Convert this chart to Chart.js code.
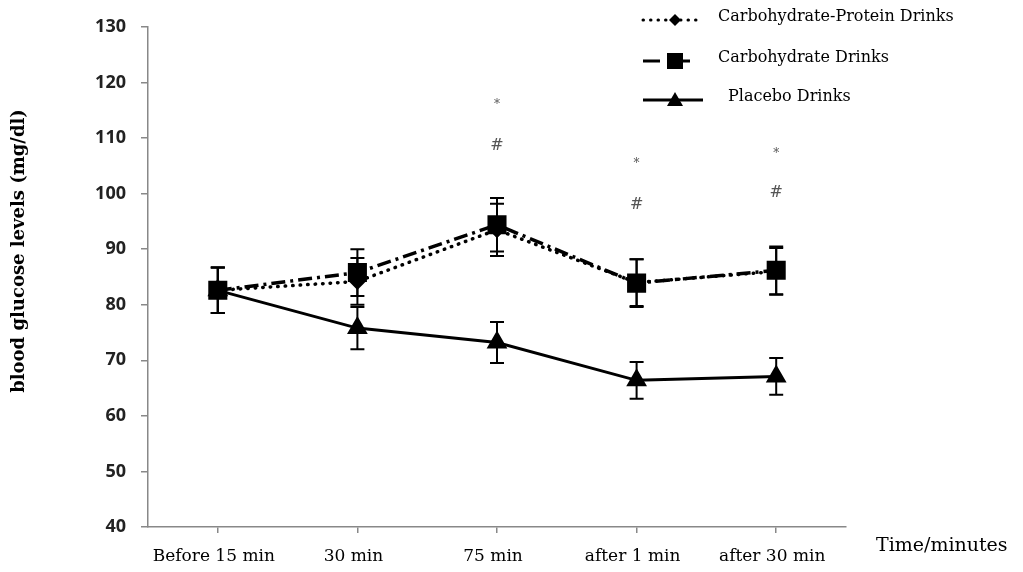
<!DOCTYPE html>
<html>
<head>
<meta charset="utf-8">
<script src="https://cdn.jsdelivr.net/npm/chart.js"></script>
<style>
  html, body { margin: 0; padding: 0; background: #fff; }
  #wrap { width: 1023px; height: 572px; }
</style>
</head>
<body>
<div id="wrap"><canvas id="glucoseChart" width="1023" height="572"></canvas></div>
<script>
const categories = ['Before 15 min', '30 min', '75 min', 'after 1 min', 'after 30 min'];

const cpMeans = [82.6, 84.2, 93.5, 84.0, 86.0];
const cpErrors = [4.1, 4.2, 4.7, 4.2, 4.2];

const carbMeans = [82.6, 85.8, 94.4, 83.9, 86.2];
const carbErrors = [4.1, 4.2, 4.8, 4.3, 4.3];

const placeboMeans = [82.6, 75.8, 73.2, 66.4, 67.1];
const placeboErrors = [4.1, 3.8, 3.7, 3.3, 3.3];

// significance marks above the groups (value = where the mark sits)
const starValues = [null, null, 116.3, 105.7, 107.5];
const hashValues = [null, null, 108.6, 98.0, 100.1];

const yTitle = 'blood glucose levels (mg/dl)';
const xTitle = 'Time/minutes';

const serif = '"DejaVu Serif", "Liberation Serif", serif';

const errorBars = {
    id: 'errorBars',
    afterDatasetsDraw(chart) {
        const { ctx, scales: { y } } = chart;
        ctx.save();
        ctx.strokeStyle = '#000';
        ctx.lineWidth = 2;
        chart.data.datasets.forEach((ds, di) => {
            const meta = chart.getDatasetMeta(di);
            ds.data.forEach((v, i) => {
                const x = meta.data[i].x;
                const top = y.getPixelForValue(v + ds.errors[i]);
                const bot = y.getPixelForValue(v - ds.errors[i]);
                ctx.beginPath();
                ctx.moveTo(x, top); ctx.lineTo(x, bot);
                ctx.moveTo(x - 7, top); ctx.lineTo(x + 7, top);
                ctx.moveTo(x - 7, bot); ctx.lineTo(x + 7, bot);
                ctx.stroke();
            });
        });
        ctx.restore();
    }
};

function drawMarker(ctx, style, x, y) {
    ctx.beginPath();
    if (style === 'rect') {
        ctx.rect(x - 8, y - 8, 16, 16);
    } else if (style === 'triangle') {
        ctx.moveTo(x, y - 8); ctx.lineTo(x + 8, y + 6); ctx.lineTo(x - 8, y + 6);
        ctx.closePath();
    } else {
        ctx.moveTo(x, y - 6); ctx.lineTo(x + 6, y); ctx.lineTo(x, y + 6); ctx.lineTo(x - 6, y);
        ctx.closePath();
    }
    ctx.fill();
}

const extras = {
    id: 'extras',
    afterDraw(chart) {
        const { ctx, scales: { x, y } } = chart;
        ctx.save();

        // significance marks
        ctx.fillStyle = '#555';
        ctx.textAlign = 'center';
        ctx.textBaseline = 'middle';
        categories.forEach((c, i) => {
            const px = x.getPixelForValue(i);
            if (starValues[i] !== null) {
                ctx.font = '12px ' + serif;
                ctx.fillText('*', px, y.getPixelForValue(starValues[i]) + 2);
            }
            if (hashValues[i] !== null) {
                ctx.font = '16px ' + serif;
                ctx.fillText('#', px, y.getPixelForValue(hashValues[i]));
            }
        });

        // y title
        ctx.fillStyle = '#000';
        ctx.font = 'bold 18px ' + serif;
        ctx.translate(19, 251);
        ctx.rotate(-Math.PI / 2);
        ctx.fillText(yTitle, 0, 0);
        ctx.setTransform(1, 0, 0, 1, 0, 0);

        // x title
        ctx.textAlign = 'left';
        ctx.font = '19px ' + serif;
        ctx.fillText(xTitle, 876, 546);

        // legend
        const rows = [17, 58, 97];
        chart.data.datasets.forEach((ds, di) => {
            const ly = rows[di] + 3;
            ctx.strokeStyle = '#000';
            ctx.fillStyle = '#000';
            ctx.lineWidth = 3;
            ctx.lineCap = ds.borderCapStyle || 'butt';
            ctx.setLineDash(ds.legendDash);
            ctx.beginPath();
            ctx.moveTo(643, ly);
            ctx.lineTo(ds.legendEnd, ly);
            ctx.stroke();
            ctx.setLineDash([]);
            drawMarker(ctx, ds.pointStyle, 675, ly);
            ctx.font = '16px ' + serif;
            ctx.textBaseline = 'middle';
            ctx.fillText(ds.label, ds.legendTextX, rows[di]);
        });
        ctx.restore();
    }
};

new Chart(document.getElementById('glucoseChart'), {
    type: 'line',
    data: {
        labels: categories,
        datasets: [
            {
                label: 'Carbohydrate-Protein Drinks',
                data: cpMeans,
                errors: cpErrors,
                borderColor: '#000',
                backgroundColor: '#000',
                borderWidth: 3.5,
                borderDash: [0.5, 7],
                borderCapStyle: 'round',
                pointStyle: 'rectRot',
                pointRadius: 6,
                legendDash: [0.5, 7],
                legendEnd: 697,
                legendTextX: 718,
                tension: 0,
                order: 2
            },
            {
                label: 'Carbohydrate Drinks',
                data: carbMeans,
                errors: carbErrors,
                borderColor: '#000',
                backgroundColor: '#000',
                borderWidth: 3.5,
                borderDash: [14, 5, 3, 5],
                pointStyle: 'rect',
                pointRadius: 11,
                legendDash: [17, 15, 100],
                legendEnd: 690,
                legendTextX: 718,
                tension: 0,
                order: 1
            },
            {
                label: 'Placebo Drinks',
                data: placeboMeans,
                errors: placeboErrors,
                borderColor: '#000',
                backgroundColor: '#000',
                borderWidth: 3,
                pointStyle: 'triangle',
                pointRadius: 9,
                legendDash: [],
                legendEnd: 703,
                legendTextX: 728,
                tension: 0,
                order: 3
            }
        ]
    },
    options: {
        responsive: false,
        animation: false,
        layout: { padding: { top: 27, right: 177, left: 0, bottom: 0 } },
        plugins: {
            legend: { display: false },
            tooltip: { enabled: false }
        },
        scales: {
            x: {
                offset: true,
                afterFit: (scale) => { scale.height = 45; },
                border: { color: '#888', width: 1.5 },
                grid: { drawOnChartArea: false, tickLength: 6, color: '#888', lineWidth: 1.5 },
                ticks: {
                    color: '#000',
                    font: { family: serif, size: 17 },
                    padding: 13,
                    labelOffset: -4,
                    maxRotation: 0,
                    autoSkip: false
                }
            },
            y: {
                min: 40,
                max: 130,
                afterFit: (scale) => { scale.width = 148; },
                border: { color: '#888', width: 1.5 },
                grid: { drawOnChartArea: false, tickLength: 7, color: '#888', lineWidth: 1.5 },
                ticks: {
                    stepSize: 10,
                    color: '#222',
                    padding: 15,
                    font: { family: '"Open Sans", sans-serif', size: 18, weight: 'bold' }
                }
            }
        }
    },
    plugins: [errorBars, extras]
});
</script>
</body>
</html>
